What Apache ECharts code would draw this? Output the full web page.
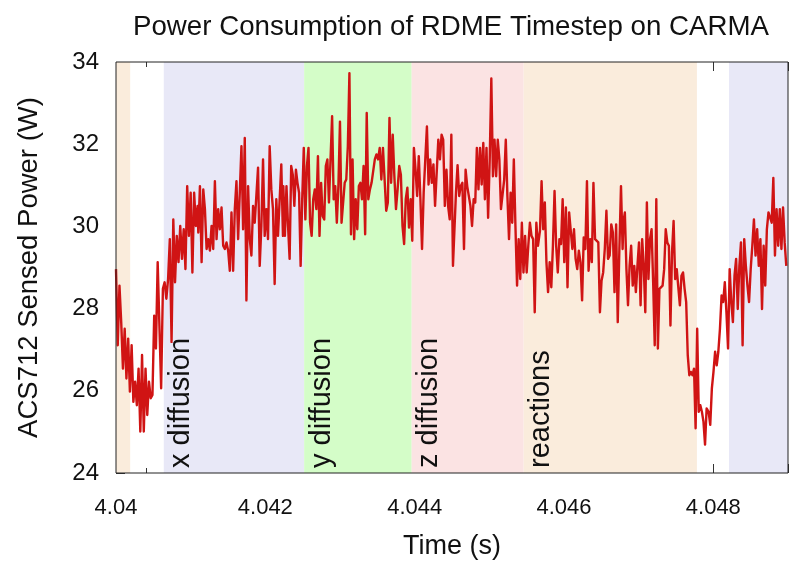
<!DOCTYPE html>
<html><head><meta charset="utf-8">
<script src="https://cdn.jsdelivr.net/npm/echarts@6/dist/echarts.min.js"></script>
<style>html,body{margin:0;padding:0;background:#fff}#c{width:800px;height:569px}</style>
</head><body><div id="c"></div>
<script>
const titleText = 'Power Consumption of RDME Timestep on CARMA';
const xName = 'Time (s)';
const yName = 'ACS712 Sensed Power (W)';
const xMin = 4.04, xMax = 4.049, xStep = 0.002;
const yMin = 24, yMax = 34, yStep = 2;
const xTickLabels = ['4.04', '4.042', '4.044', '4.046', '4.048'];
const yTickLabels = ['24', '26', '28', '30', '32', '34'];

// Phase bands (time ranges)
const bandStart = [4.04, 4.04064, 4.04252, 4.04396, 4.04546, 4.04821];
const bandEnd   = [4.04019, 4.04252, 4.04396, 4.04546, 4.04778, 4.049];
const bandLabel = ['', 'x diffusion', 'y diffusion', 'z diffusion', 'reactions', ''];
const bandColor = ['#faecdc', '#e8e8f7', '#d4fdc8', '#fbe3e3', '#faecdc', '#e8e8f7'];

// Sensor readings, grouped in capture windows (first/last sample time of each window)
const winStart = [4.04, 4.041102, 4.042241, 4.043401, 4.044553, 4.045678, 4.046794, 4.047937];
const winEnd   = [4.041093, 4.042236, 4.043379, 4.044513, 4.045651, 4.046785, 4.04791, 4.048977];
const p1 = [28.96,27.11,28.56,27.67,26.54,27.51,26.30,27.27,25.98,27.11,25.73,26.22,25.65,26.54,25.01,26.87,25.01,26.54,25.41,26.22,25.82,25.90,27.83,27.03,29.13,27.59,26.06,28.48,28.64,28.24,28.72,29.69,27.19,30.17,28.64,29.77,29.13,30.01,29.21,29.93,28.96,30.98,29.77,30.82,28.88,30.82,30.01,30.50];
const p2 = [29.85,30.98,29.13,30.90,30.42,29.45,29.69,29.41,30.01,29.45,31.10,29.69,30.42,29.93,30.46,29.53,29.45,29.61,29.41,28.92,30.34,28.92,30.42,31.10,29.69,30.82,31.95,29.93,32.15,28.20,30.98,29.69,29.29,30.50,30.09,30.13,31.43,29.04,30.01,31.63,29.77,30.42,29.69,31.95,30.90,30.42,28.60,30.66,29.77,29.77,31.51,29.77];
const p3 = [30.98,29.77,30.98,30.01,29.21,31.47,31.26,30.50,31.38,31.06,30.82,29.04,30.66,31.91,30.17,31.47,31.91,30.09,29.77,30.66,30.90,30.42,31.71,29.77,31.06,30.25,30.17,31.47,31.63,30.58,31.63,32.68,30.66,30.98,30.09,30.98,32.55,30.09,30.05,31.06,31.14,31.95,33.73,29.81,31.63,29.69,30.66,29.93,30.98,31.06,30.66,31.47,29.81,32.76,30.66];
const p4 = [30.90,31.06,31.06,31.63,31.75,31.63,31.91,31.14,31.91,31.14,30.38,30.58,32.64,31.06,32.23,31.22,30.42,30.90,31.47,31.26,30.01,29.57,30.66,30.94,29.97,30.66,29.65,31.91,31.38,30.74,31.71,30.66,29.45,30.82,31.63,32.43,31.02,31.63,31.06,31.51,30.50,30.50,32.11,31.63,32.23,32.11,30.50,31.38,30.50,30.17,32.23,29.04];
const p5 = [30.82,31.49,30.74,30.98,31.06,29.45,31.38,30.98,30.98,30.50,30.01,30.66,30.58,31.91,30.90,31.91,31.02,32.03,30.66,31.91,30.21,31.63,33.60,31.22,32.11,31.22,32.11,31.63,30.42,30.38,31.14,32.11,30.74,29.69,30.82,30.09,31.63,30.01,28.56,29.69,28.72,30.09,28.88,29.77,28.88,29.53,30.09,29.77,29.69,27.91,30.09,29.53];
const p6 = [29.89,31.10,29.93,30.58,29.13,28.40,29.13,28.52,29.53,30.86,29.53,28.88,29.69,29.57,30.66,29.13,30.46,28.52,30.34,30.38,29.45,29.93,29.21,28.96,29.41,29.13,28.20,29.73,29.45,31.10,28.92,29.69,29.13,31.06,29.69,29.73,29.61,27.91,28.68,28.88,29.45,30.38,29.21,29.29,30.05,29.85,28.40,30.05,27.67,29.45,30.98,29.45];
const p7 = [30.09,30.34,28.96,28.08,29.04,29.53,28.56,29.04,28.40,29.04,29.61,28.08,29.69,29.04,27.91,30.58,28.72,29.69,29.93,28.64,27.11,30.66,27.03,28.48,28.48,28.56,28.96,29.93,29.61,29.53,27.59,29.37,30.13,28.72,28.96,28.96,28.08,28.80,28.88,28.48,28.16,26.87,26.38,26.46,26.38,26.54,25.09,27.51,25.49,25.65,25.49,25.25,24.69,25.57];
const p8 = [25.49,25.17,26.06,26.46,26.95,26.62,26.95,27.51,28.32,28.16,28.64,27.91,27.03,28.96,28.16,27.67,28.80,29.21,27.99,29.04,29.61,27.11,29.69,29.04,28.56,28.16,28.96,29.53,30.17,29.29,29.93,29.04,29.69,27.99,29.53,28.56,29.93,30.34,30.38,30.09,31.18,29.29,30.42,29.53,30.42,29.45,30.46,29.61,29.04];

const windows = [p1, p2, p3, p4, p5, p6, p7, p8];
const powerData = [];
windows.forEach((vals, k) => {
  const n = vals.length;
  vals.forEach((v, i) => {
    powerData.push([winStart[k] + (winEnd[k] - winStart[k]) * i / (n - 1), v]);
  });
});

const FONT = '"Liberation Sans", Arial, Helvetica, sans-serif';
const TXT = '#111';

const xCommon = {
  type: 'value', min: xMin, max: xMax, interval: xStep,
  splitLine: { show: false },
  axisLine: { show: false },
  axisTick: { show: true, inside: true, length: 9, lineStyle: { color: '#333' } },
  minorTick: { show: true, splitNumber: 5, length: 5, lineStyle: { color: '#333' } }
};
const xFmt = v => {
  const idx = Math.round((v - xMin) / xStep);
  return Math.abs(xMin + idx * xStep - v) < 1e-9 && xTickLabels[idx] ? xTickLabels[idx] : '';
};
const yFmt = v => {
  const idx = Math.round((v - yMin) / yStep);
  return yTickLabels[idx] || '';
};

const chart = echarts.init(document.getElementById('c'), null, { renderer: 'canvas' });
chart.setOption({
  animation: false,
  backgroundColor: '#fff',
  title: {
    text: titleText, left: 446, top: 8, textAlign: 'center',
    textStyle: { fontSize: 27.7, fontWeight: 'normal', color: TXT, fontFamily: FONT }
  },
  grid: { left: 116, right: 12, top: 62, bottom: 96, show: true, borderColor: '#222', borderWidth: 1, backgroundColor: 'transparent', z: 10 },
  xAxis: [
    Object.assign({}, xCommon, {
      position: 'bottom', name: xName, nameLocation: 'middle', nameGap: 60,
      nameTextStyle: { fontSize: 27, color: TXT, fontFamily: FONT },
      axisLabel: { fontSize: 22, color: TXT, fontFamily: FONT, margin: 24, showMaxLabel: false, formatter: xFmt }
    }),
    Object.assign({}, xCommon, { position: 'top', axisLabel: { show: false } })
  ],
  yAxis: [{
    type: 'value', min: yMin, max: yMax, interval: yStep, position: 'left',
    name: yName, nameLocation: 'middle', nameGap: 73, nameRotate: 90,
    nameTextStyle: { fontSize: 27.5, color: TXT, fontFamily: FONT },
    splitLine: { show: false }, axisLine: { show: false },
    axisTick: { show: true, inside: true, length: 9, lineStyle: { color: '#333' } },
    axisLabel: { fontSize: 24, color: TXT, fontFamily: FONT, margin: 17, padding: [6, 0, 0, 0], formatter: yFmt }
  }],
  series: [
    {
      type: 'custom', z: 1, silent: true, clip: true,
      data: bandStart.map((s, i) => [s, bandEnd[i], i]),
      encode: { x: [0, 1] },
      renderItem: (params, api) => {
        const i = api.value(2);
        const a = api.coord([api.value(0), yMax]);
        const b = api.coord([api.value(1), yMin]);
        return { type: 'rect', shape: { x: a[0], y: a[1], width: b[0] - a[0], height: b[1] - a[1] }, style: { fill: bandColor[i] } };
      }
    },
    {
      type: 'line', z: 2, silent: true, data: powerData, symbol: 'none', showSymbol: false,
      lineStyle: { color: '#d01414', width: 2.4, join: 'round' }
    },
    {
      type: 'custom', z: 5, silent: true,
      data: bandStart.map((s, i) => [s, yMin, i]).filter(d => bandLabel[d[2]]),
      renderItem: (params, api) => {
        const pt = api.coord([api.value(0), api.value(1)]);
        return {
          type: 'text', x: pt[0] + 17.5, y: pt[1] - 5, rotation: Math.PI / 2,
          style: { text: bandLabel[api.value(2)], fill: TXT, font: '29px ' + FONT, align: 'left', verticalAlign: 'middle' }
        };
      }
    }
  ]
});
</script></body></html>
